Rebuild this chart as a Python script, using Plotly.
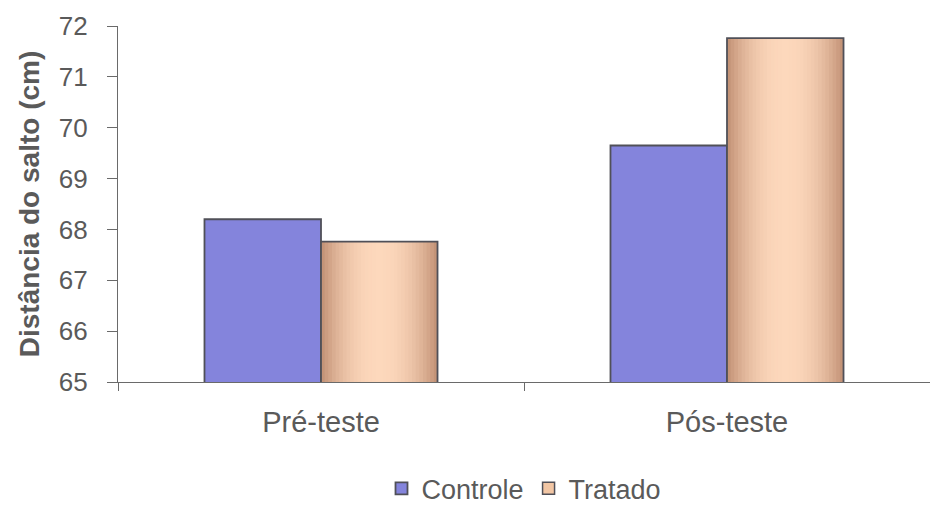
import plotly.graph_objects as go

categories = ["Pré-teste", "Pós-teste"]
controle = [68.2, 69.65]
tratado = [67.76, 71.76]

FONT = "Liberation Sans, Arial, sans-serif"
TEXT = "#5a5a5a"
EDGE = "#505058"

BAR_W = 0.287          # width of one bar, in category units
BLUE = "#8484DC"

# shading of the "Tratado" columns: nested bands from edge tone to highlight tone
EDGE_RGB = (196, 148, 120)
LIGHT_RGB = (253, 216, 188)
N_BANDS = 16


def mix(a, b, t):
    return "rgb(%d,%d,%d)" % tuple(round(x + (y - x) * t) for x, y in zip(a, b))


fig = go.Figure()

# Controle
fig.add_trace(go.Bar(
    name="Controle", x=categories, y=controle,
    offset=-BAR_W, width=BAR_W,
    marker=dict(color=BLUE, line=dict(color=EDGE, width=1.8)),
))

# Tratado: concentric vertical bands give the rounded look
for k in range(N_BANDS):
    frac = 1 - k / N_BANDS
    t = 1 - frac ** 2.2
    w = BAR_W * frac
    fig.add_trace(go.Bar(
        name="Tratado", x=categories, y=tratado,
        offset=(BAR_W - w) / 2, width=w,
        marker=dict(color=mix(EDGE_RGB, LIGHT_RGB, t), line=dict(width=0)),
        showlegend=False, hoverinfo="skip",
    ))

# outline of the Tratado columns
fig.add_trace(go.Bar(
    name="Tratado", x=categories, y=tratado,
    offset=0, width=BAR_W,
    marker=dict(color="rgba(0,0,0,0)", line=dict(color=EDGE, width=1.8)),
    showlegend=False, hoverinfo="skip",
))
# legend swatch for Tratado
fig.add_trace(go.Bar(
    name="Tratado", x=[None], y=[None],
    marker=dict(color="#F2C6A4", line=dict(color=EDGE, width=1.5)),
))

fig.update_layout(
    width=930, height=506,
    margin=dict(l=118, r=0, t=26, b=124),
    paper_bgcolor="white", plot_bgcolor="white",
    barmode="overlay",
    font=dict(family=FONT, color=TEXT),
    showlegend=True,
    legend=dict(orientation="h", x=0.5, xanchor="center", xref="paper",
                y=0.034, yanchor="middle", yref="container",
                font=dict(size=27, color=TEXT), itemwidth=30,
                tracegroupgap=0),
    xaxis=dict(
        showline=True, linecolor="#6a6a6a", linewidth=1.3,
        ticks="outside", tickson="boundaries", ticklen=8, tickcolor="#6a6a6a",
        tickfont=dict(size=29, color=TEXT), ticklabelstandoff=14,
        showgrid=False, range=[-0.5, 1.5],
    ),
    yaxis=dict(
        range=[65, 72], dtick=1,
        showline=True, linecolor="#6a6a6a", linewidth=1.3,
        ticks="outside", ticklen=10, tickcolor="#6a6a6a",
        tickfont=dict(size=26, color=TEXT), ticklabelstandoff=14,
        showgrid=False, zeroline=False,
        title=dict(text="<b>Distância do salto (cm)</b>",
                   font=dict(size=28, color=TEXT), standoff=10),
    ),
)

fig.write_html("out.html")
